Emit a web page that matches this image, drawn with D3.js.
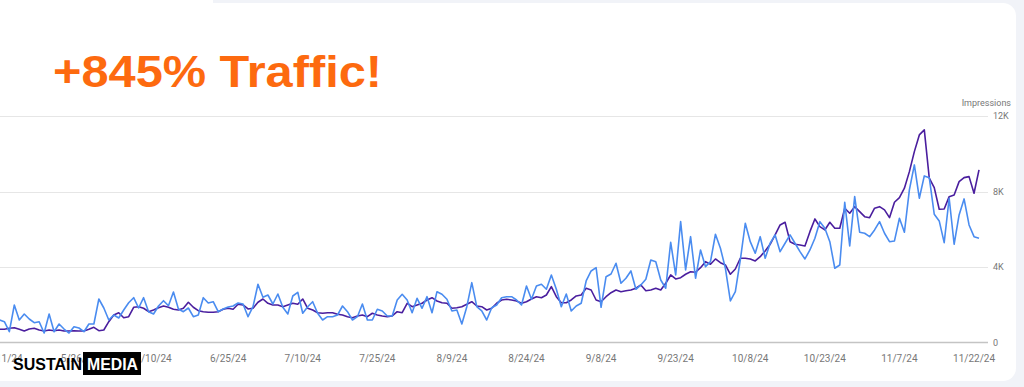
<!DOCTYPE html>
<html>
<head>
<meta charset="utf-8">
<script src="https://cdn.jsdelivr.net/npm/d3@7"></script>
<style>
  body { margin: 0; background: #f1f3f8; }
  svg { display: block; }
</style>
</head>
<body>
<script>
// daily impressions (first day 5/10/24)
const startDate = "2024-05-10";

const seriesBlue = [1200, 1102, 572, 1987, 1192, 1510, 1245, 1049, 1102, 503, 1510, 572, 980, 715, 503, 837, 768, 572, 980, 980,
  2305, 1828, 1192, 1457, 1298, 1722, 2109, 2374, 1828, 2374, 1632, 1510, 1934, 2215, 1950, 2676, 1775, 1632, 1828, 1367,
  1457, 2374, 2093, 2162, 1632, 1775, 1881, 1934, 2093, 2040, 1367, 1897, 3084, 2395, 2517, 2040, 2570, 1865, 1510, 2464,
  2660, 1547, 1897, 2162, 1547, 1192, 1367, 1367,
  1457, 1934, 1632, 1192, 1367, 2040, 1192, 1192, 1760, 1670, 1405, 1405, 2252, 2555, 2252, 1579, 2343, 1813, 2427, 1579,
  2692, 2555, 2290, 1670, 1722, 980, 1897, 3169, 1897, 1670, 1192, 1844, 1987, 2374, 2427, 2427, 2252, 1987, 2994, 2290,
  2994, 3085, 2820, 3577, 2820, 1897, 2570, 1670, 1934, 2078, 3260, 3790, 3964, 1866, 3487, 3630, 4198, 3138, 3403, 3790,
  2820, 3048, 3350, 4373, 4282, 3313,
  2873, 5311, 3578, 6402, 3843, 5607, 3403, 4903, 4017, 4282, 5735, 4993, 3933, 2200, 2692, 4373, 6318, 5342, 4728, 5607,
  4463, 5258, 5698, 4812, 5258, 5698, 5258, 4812, 4426, 4903, 5523, 6402, 6053, 5342, 3933, 4108, 7431, 5115, 7727, 5841,
  5788, 5607, 5963, 6402, 5788, 5342, 5380, 6583, 5841, 8083, 9408, 7643, 8825, 8734, 6795, 6440, 5289, 7643, 5205, 6758,
  7606, 6228, 5607, 5523];

const seriesPurple = [700, 700, 753, 785, 700, 610, 715, 753, 662, 610, 662, 625, 662, 610, 610, 625, 610, 610, 700, 806,
  625, 662, 1102, 1457, 1579, 1314, 1367, 1866, 1897, 1813, 1632, 1722, 1844, 1934, 1866, 1760, 1722, 1813, 2131, 1866,
  1685, 1632, 1600, 1600, 1632, 1760, 1813, 1760, 2025, 1987, 1775, 1813, 2131, 2305, 2078, 1987, 1987, 1897, 1987, 2078,
  2025, 2305, 1813, 1722, 1579, 1547, 1579, 1579,
  1495, 1457, 1367, 1314, 1405, 1457, 1367, 1548, 1457, 1405, 1367, 1405, 1632, 1579, 2078, 1897, 1987, 2078, 2252, 2374,
  2200, 2109, 2078, 1813, 1844, 1897, 2025, 2162, 1934, 1897, 1722, 1813, 2078, 2252, 2290, 2252, 2200, 2078, 2162, 2305,
  2427, 2374, 2517, 2957, 2427, 2109, 2109, 2252, 2464, 2517, 2873, 2782, 2252, 2162, 2427, 2639, 2782, 2692, 2745, 2782,
  2873, 3048, 2745, 2782, 2873, 2782,
  3138, 3578, 3366, 3434, 3615, 3752, 3721, 3964, 4282, 4145, 4426, 4229, 4108, 3615, 3896, 4463, 4463, 4426, 4320, 4547,
  4850, 5205, 5698, 6228, 6371, 5342, 5205, 5168, 5115, 5872, 6546, 6137, 5963, 6371, 6053, 6053, 7113, 6848, 7197, 6932,
  6667, 6614, 7113, 7197, 7023, 6614, 7431, 7674, 8173, 9052, 10112, 10998, 11263, 8703, 8204, 7060, 7076, 7727, 7818, 8522,
  8734, 8787, 7908, 9143];

const xTickDates = ["2024-05-11", "2024-05-26", "2024-06-10", "2024-06-25", "2024-07-10", "2024-07-25", "2024-08-09",
  "2024-08-24", "2024-09-08", "2024-09-23", "2024-10-08", "2024-10-23", "2024-11-07", "2024-11-22"];
const yTicks = [0, 4000, 8000, 12000];
const yTickLabels = ["0", "4K", "8K", "12K"];

const width = 1024, height = 387;
const parse = d3.utcParse("%Y-%m-%d");
const start = parse(startDate);
const dates = seriesBlue.map((_, i) => d3.utcDay.offset(start, i));

const x = d3.scaleUtc()
    .domain(d3.extent(dates))
    .range([-0.6, 979]);
const y = d3.scaleLinear()
    .domain([0, 12000])
    .range([342.5, 116]);

const svg = d3.select("body").append("svg")
    .attr("width", width)
    .attr("height", height);

// page background + white card
svg.append("rect").attr("width", width).attr("height", height).attr("fill", "#f1f3f8");
svg.append("rect")
    .attr("x", -30).attr("y", 3)
    .attr("width", 1046).attr("height", 378)
    .attr("rx", 13)
    .attr("fill", "#fff");
// white overlay box behind the headline
svg.append("rect").attr("x", 0).attr("y", 0).attr("width", 213).attr("height", 20).attr("fill", "#fff");

// gridlines
svg.append("g")
  .selectAll("line")
  .data(yTicks.slice(1))
  .join("line")
    .attr("x1", 0).attr("x2", 988)
    .attr("y1", d => Math.round(y(d)) + 0.5)
    .attr("y2", d => Math.round(y(d)) + 0.5)
    .attr("stroke", "#e6e6e6")
    .attr("stroke-width", 1);

// baseline
svg.append("line")
    .attr("x1", 0).attr("x2", 988)
    .attr("y1", y(0)).attr("y2", y(0))
    .attr("stroke", "#c4c4c4")
    .attr("stroke-width", 1.5);

// right axis labels
svg.append("g")
    .attr("font-family", "Roboto, sans-serif")
    .attr("font-size", 9)
    .attr("fill", "#777")
  .selectAll("text")
  .data(yTicks)
  .join("text")
    .attr("x", 993)
    .attr("y", d => y(d) + 3)
    .text((d, i) => yTickLabels[i]);

svg.append("text")
    .attr("x", 1011).attr("y", 106)
    .attr("text-anchor", "end")
    .attr("font-family", "Roboto, sans-serif")
    .attr("font-size", 9)
    .attr("fill", "#777")
    .text("Impressions");

// x axis labels
const fmt = d3.utcFormat("%-m/%-d/%y");
svg.append("g")
    .attr("font-family", "Roboto, sans-serif")
    .attr("font-size", 10)
    .attr("fill", "#777")
    .attr("text-anchor", "middle")
  .selectAll("text")
  .data(xTickDates.map(parse))
  .join("text")
    .attr("x", d => x(d))
    .attr("y", 362)
    .text(d => fmt(d));

// lines
svg.append("clipPath").attr("id", "plot")
  .append("rect").attr("x", 0).attr("y", 0).attr("width", 990).attr("height", 345);

const line = d3.line()
    .x((d, i) => x(dates[i]))
    .y(d => y(d));

const lines = svg.append("g").attr("clip-path", "url(#plot)")
    .attr("fill", "none")
    .attr("stroke-width", 1.6)
    .attr("stroke-linejoin", "round");

lines.append("path").datum(seriesPurple)
    .attr("stroke", "#4a1e9e")
    .attr("d", line);
lines.append("path").datum(seriesBlue)
    .attr("stroke", "#4a8cf0")
    .attr("d", line);

// headline
svg.append("text")
    .attr("x", 53).attr("y", 87)
    .attr("font-family", "Liberation Sans, Arial, sans-serif")
    .attr("font-weight", 700)
    .attr("font-size", 45)
    .attr("textLength", 329)
    .attr("lengthAdjust", "spacingAndGlyphs")
    .attr("fill", "#fd6a0f")
    .text("+845% Traffic!");

// logo
svg.append("text")
    .attr("x", 13).attr("y", 370)
    .attr("font-family", "Liberation Sans, Arial, sans-serif")
    .attr("font-weight", 700)
    .attr("font-size", 17)
    .attr("textLength", 69)
    .attr("lengthAdjust", "spacingAndGlyphs")
    .attr("fill", "#000")
    .text("SUSTAIN");
svg.append("rect")
    .attr("x", 83).attr("y", 352)
    .attr("width", 58).attr("height", 23)
    .attr("fill", "#000");
svg.append("text")
    .attr("x", 87).attr("y", 370)
    .attr("font-family", "Liberation Sans, Arial, sans-serif")
    .attr("font-weight", 700)
    .attr("font-size", 17)
    .attr("textLength", 51)
    .attr("lengthAdjust", "spacingAndGlyphs")
    .attr("fill", "#fff")
    .text("MEDIA");
</script>
</body>
</html>
